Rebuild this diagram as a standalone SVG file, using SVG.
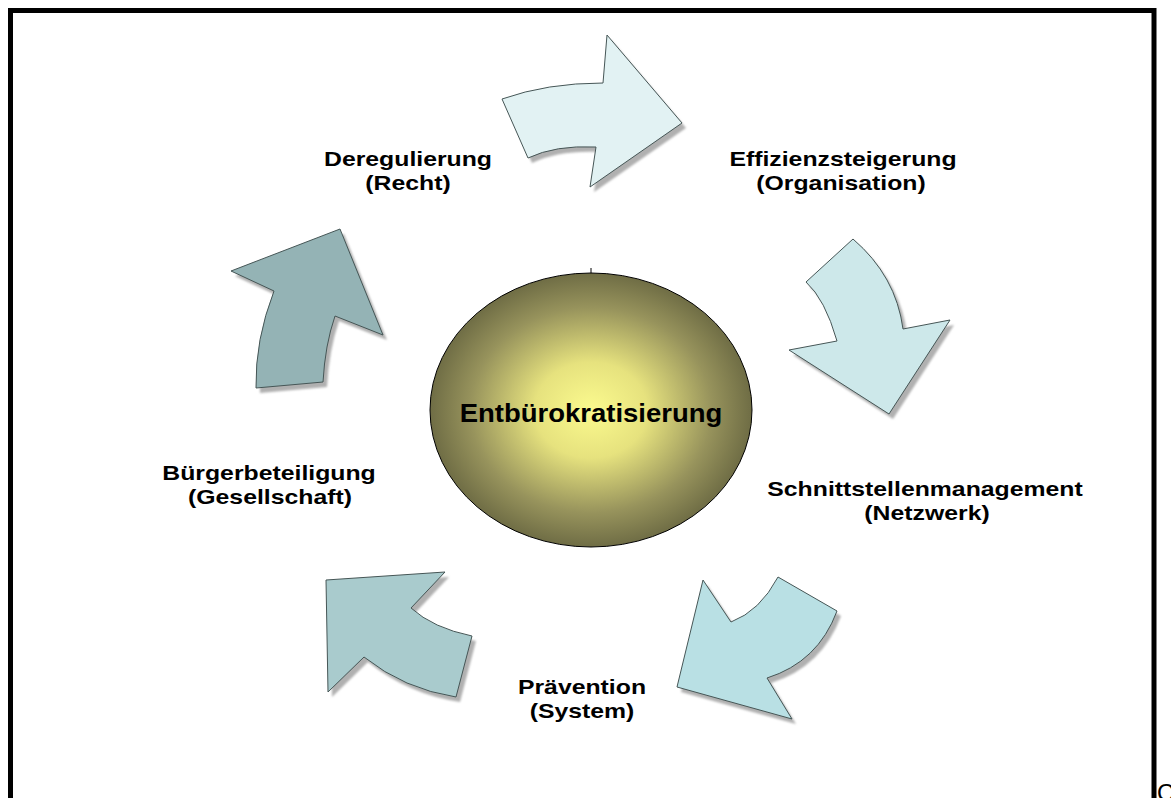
<svg xmlns="http://www.w3.org/2000/svg" width="1171" height="798" viewBox="0 0 1171 798">
  <defs>
    <radialGradient id="coreFill" cx="0.5" cy="0.5" r="0.5">
      <stop offset="0" stop-color="#fbfa8e"/>
      <stop offset="0.35" stop-color="#e6e27e"/>
      <stop offset="0.75" stop-color="#97935c"/>
      <stop offset="1" stop-color="#6f6d45"/>
    </radialGradient>
    <filter id="soft" x="-10%" y="-10%" width="120%" height="120%">
      <feGaussianBlur stdDeviation="0.8"/>
    </filter>
    <!-- curved arrow outlines -->
    <path id="a1" d="M502,99 Q547,83 603,83 L607,35 L682,123 L590,187 L596,147 Q555,145 528,158 Z"/>
    <path id="a2" d="M853,239 Q896,276 903,329 L950,320 L889,414 L789,350 L837,341 Q825,299 806,282 Z"/>
    <path id="a3" d="M778,577 L837,611 Q818,662 767,678 L792,719 L677,687 L703,580 L731,622 Q760,611 778,577 Z"/>
    <path id="a4" d="M326,580 L445,572 L411,608 Q433,628 472,636 L456,697 Q404,689 364,657 L328,692 Z"/>
    <path id="a5" d="M340,229 L383,335 L335,316 Q325,345 323,382 L256,388 Q255,340 274,291 L231,271 Z"/>
  </defs>
  <style>
    .shadow { fill: #b0b0b0; filter: url(#soft); }
    .arrow { stroke: #465656; stroke-width: 1; }
    .lbl { font-family: "Liberation Sans", Arial, sans-serif; font-weight: bold; font-size: 20px; fill: #000; text-anchor: middle; }
  </style>

  <rect width="1171" height="798" fill="#fff"/>
  <!-- page frame, runs past the lower edge -->
  <rect x="10.5" y="10.5" width="1143.5" height="820" fill="none" stroke="#000" stroke-width="5"/>

  <g id="connectors">
    <use href="#a1" class="shadow" transform="translate(4,5)"/>
    <use href="#a1" class="arrow" fill="#e2f2f3"/>
    <use href="#a2" class="shadow" transform="translate(4,5)"/>
    <use href="#a2" class="arrow" fill="#cde8ea"/>
    <use href="#a3" class="shadow" transform="translate(4,5)"/>
    <use href="#a3" class="arrow" fill="#b9e0e4"/>
    <use href="#a4" class="shadow" transform="translate(4,5)"/>
    <use href="#a4" class="arrow" fill="#a9cbcd"/>
    <use href="#a5" class="shadow" transform="translate(4,5)"/>
    <use href="#a5" class="arrow" fill="#94b3b5"/>
  </g>

  <g id="core">
    <ellipse cx="591" cy="410" rx="161" ry="137" fill="url(#coreFill)" stroke="#000" stroke-width="1"/>
    <line x1="591" y1="268" x2="591" y2="273" stroke="#000" stroke-width="1"/>
    <text class="lbl" style="font-size:25px" transform="translate(591,422) scale(1.1,1)">Entbürokratisierung</text>
  </g>

  <g id="recht">
    <text class="lbl" transform="translate(408,166) scale(1.24,1)">Deregulierung</text>
    <text class="lbl" transform="translate(408,190) scale(1.24,1)">(Recht)</text>
  </g>

  <g id="organisation">
    <text class="lbl" transform="translate(843,166) scale(1.24,1)">Effizienzsteigerung</text>
    <text class="lbl" transform="translate(841,190) scale(1.24,1)">(Organisation)</text>
  </g>

  <g id="netzwerk">
    <text class="lbl" transform="translate(925,496) scale(1.24,1)">Schnittstellenmanagement</text>
    <text class="lbl" transform="translate(927,520) scale(1.24,1)">(Netzwerk)</text>
  </g>

  <g id="system">
    <text class="lbl" transform="translate(582,694) scale(1.24,1)">Prävention</text>
    <text class="lbl" transform="translate(582,718) scale(1.24,1)">(System)</text>
  </g>

  <g id="gesellschaft">
    <text class="lbl" transform="translate(269,480) scale(1.24,1)">Bürgerbeteiligung</text>
    <text class="lbl" transform="translate(270,504) scale(1.24,1)">(Gesellschaft)</text>
  </g>

  <text x="1157" y="801" font-family="Liberation Sans, Arial, sans-serif" font-size="24" fill="#000">C</text>
</svg>
